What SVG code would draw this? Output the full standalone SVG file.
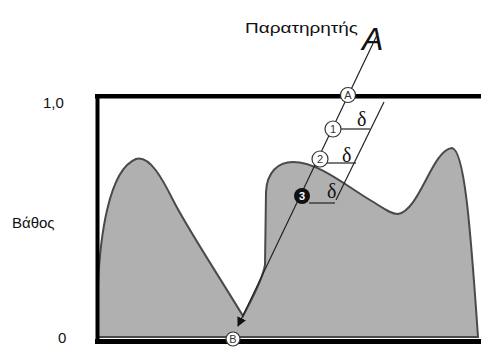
<svg xmlns="http://www.w3.org/2000/svg" width="481" height="349" viewBox="0 0 481 349">
<defs>
<style>
.lbl{font-family:"Liberation Sans",Arial,sans-serif;fill:#111}
.d{font-family:"Liberation Serif","Times New Roman",serif;font-size:20px;fill:#111}
.thin{stroke:#222;stroke-width:1.2;fill:none}
.pt{fill:#fff;stroke:#333;stroke-width:1.2}
.pl{font-family:"Liberation Sans",Arial,sans-serif;font-size:11px;fill:#333;text-anchor:middle}
</style>
<marker id="ah" viewBox="0 0 10 10" refX="9" refY="5" markerWidth="8" markerHeight="8" orient="auto">
<path d="M0,0 L10,5 L0,10 Z" fill="#111"/>
</marker>
</defs>
<rect width="481" height="349" fill="#fff"/>
<g id="terrain">
<path d="M98,337 L98,285 C100,240 108,170 136,159 C150,155 163,180 173,200 C186,226 215,270 243,316 C250,302 262,282 265,265 L266,192 C267,172 278,162 293,162 C318,162 345,185 370,200 C382,207 390,214 398,214 C420,210 432,150 452,148 C464,150 470,220 478,337 Z" fill="#b0b0b0" stroke="#4a4a4a" stroke-width="2"/>
</g>
<g id="frame">
<rect x="95" y="94" width="386" height="4.5" fill="#000"/>
<rect x="95.5" y="94" width="4" height="250" fill="#000"/>
<rect x="95" y="339" width="386" height="5" fill="#000"/>
</g>
<g id="labels">
<text class="lbl" x="245" y="33" font-size="15" textLength="113" lengthAdjust="spacingAndGlyphs">Παρατηρητής</text>
<text class="lbl" x="362" y="50" font-size="32" font-style="italic">A</text>
<text class="lbl" x="43" y="108" font-size="15">1,0</text>
<text class="lbl" x="12" y="228" font-size="15">Βάθος</text>
<text class="lbl" x="58" y="343" font-size="15">0</text>
</g>
<g id="connectors">
<line class="thin" x1="378" y1="33" x2="238" y2="326" marker-end="url(#ah)"/>
<line class="thin" x1="384" y1="102" x2="336" y2="200"/>
<line class="thin" x1="340" y1="129" x2="370" y2="129"/>
<line class="thin" x1="327" y1="163" x2="356" y2="163"/>
<line class="thin" x1="309" y1="203" x2="335" y2="203"/>
</g>
<g id="deltas">
<text class="d" x="357" y="126">δ</text>
<text class="d" x="342" y="162">δ</text>
<text class="d" x="327" y="198">δ</text>
</g>
<g id="pointA"><circle class="pt" cx="348" cy="95" r="7.5"/><text class="pl" x="348" y="99">A</text></g>
<g id="point1"><circle class="pt" cx="333" cy="129" r="8"/><text class="pl" x="333" y="133">1</text></g>
<g id="point2"><circle class="pt" cx="320" cy="159" r="8"/><text class="pl" x="320" y="163">2</text></g>
<g id="point3"><circle cx="302" cy="196" r="8" fill="#111"/><text class="pl" x="302" y="200" style="fill:#fff;font-weight:bold">3</text></g>
<g id="pointB"><circle class="pt" cx="233" cy="339" r="7"/><text class="pl" x="233" y="343">B</text></g>
</svg>
